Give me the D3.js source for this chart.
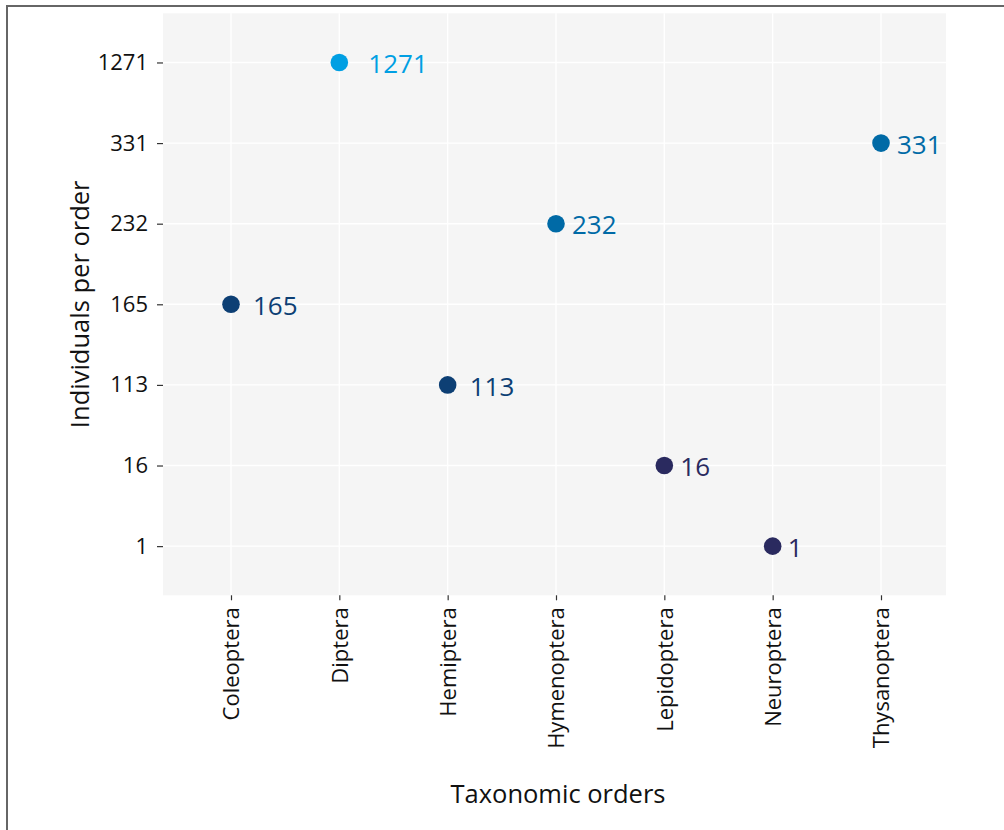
<!DOCTYPE html>
<html>
<head>
<meta charset="utf-8">
<script src="https://cdn.jsdelivr.net/npm/d3@7"></script>
<style>
  html, body { margin: 0; padding: 0; background: #fff; }
  svg { display: block; font-family: "Open Sans", "Noto Sans", sans-serif; }
</style>
</head>
<body>
<svg id="chart" width="1004" height="830"></svg>
<script>
// Insect orders and the number of individuals counted in each
const orders = ["Coleoptera", "Diptera", "Hemiptera", "Hymenoptera", "Lepidoptera", "Neuroptera", "Thysanoptera"];
const counts = [165, 1271, 113, 232, 16, 1, 331];

// Y axis treats the counts as ordered levels
const countLevels = ["1", "16", "113", "165", "232", "331", "1271"];

// Horizontal nudge of each value label away from its point (px)
const labelNudge = [22, 29, 22, 16, 16, 15, 16];

const FONT = '"Open Sans", "Noto Sans", sans-serif';
const svg = d3.select("#chart");
const W = 1004, H = 830;

// Outer frame (left and top edges)
svg.append("path")
  .attr("d", `M7,${H + 5}V6H${W + 5}`)
  .attr("fill", "none")
  .attr("stroke", "#666")
  .attr("stroke-width", 2);

const panel = { left: 163, right: 946, top: 13.3, bottom: 595.3 };

const x = d3.scalePoint()
  .domain(orders)
  .range([panel.left + 68, panel.right - 65]);

const y = d3.scalePoint()
  .domain(countLevels)
  .range([panel.bottom, panel.top])
  .padding(0.61);

const colour = d3.scaleThreshold()
  .domain([100, 200, 1000])
  .range(["#2a2a5f", "#0d3f74", "#006aa6", "#009fe3"]);

// Panel background and grid
svg.append("rect")
  .attr("x", panel.left).attr("y", panel.top)
  .attr("width", panel.right - panel.left)
  .attr("height", panel.bottom - panel.top)
  .attr("fill", "#f5f5f5");

const grid = svg.append("g").attr("stroke", "#fff").attr("stroke-width", 1.4);
grid.selectAll("line.v").data(orders).join("line")
  .attr("x1", d => x(d)).attr("x2", d => x(d))
  .attr("y1", panel.top).attr("y2", panel.bottom);
grid.selectAll("line.h").data(countLevels).join("line")
  .attr("y1", d => y(d)).attr("y2", d => y(d))
  .attr("x1", panel.left).attr("x2", panel.right);

// Axes
const xAxis = svg.append("g")
  .attr("transform", `translate(0,${panel.bottom})`)
  .call(d3.axisBottom(x).tickSize(5).tickPadding(9))
  .attr("font-family", FONT);
xAxis.select(".domain").remove();
xAxis.selectAll(".tick line").attr("stroke", "#333").attr("stroke-width", 1.2);
xAxis.selectAll(".tick text")
  .attr("fill", "#111")
  .style("font-size", "22px")
  .attr("transform", "rotate(-90)")
  .attr("x", -12)
  .attr("y", 0)
  .attr("dy", "0.35em")
  .attr("text-anchor", "end");

const yAxis = svg.append("g")
  .attr("transform", `translate(${panel.left},0)`)
  .call(d3.axisLeft(y).tickSize(6).tickPadding(9))
  .attr("font-family", FONT);
yAxis.select(".domain").remove();
yAxis.selectAll(".tick line").attr("stroke", "#333").attr("stroke-width", 1.2);
yAxis.selectAll(".tick text")
  .attr("fill", "#111")
  .style("font-size", "22px");

// Axis titles
svg.append("text")
  .attr("x", 558).attr("y", 803)
  .attr("text-anchor", "middle")
  .attr("fill", "#111")
  .style("font-size", "25.5px")
  .text("Taxonomic orders");

svg.append("text")
  .attr("transform", `translate(89,${(panel.top + panel.bottom) / 2}) rotate(-90)`)
  .attr("text-anchor", "middle")
  .attr("fill", "#111")
  .style("font-size", "25.5px")
  .text("Individuals per order");

// Points and value labels
const data = orders.map((o, i) => ({ order: o, count: counts[i], nudge: labelNudge[i] }));

svg.append("g").selectAll("circle").data(data).join("circle")
  .attr("cx", d => x(d.order))
  .attr("cy", d => y(String(d.count)))
  .attr("r", 8.8)
  .attr("fill", d => colour(d.count));

svg.append("g").selectAll("text").data(data).join("text")
  .attr("x", d => x(d.order) + d.nudge)
  .attr("y", d => y(String(d.count)) + 1.5)
  .attr("dy", "0.35em")
  .attr("fill", d => colour(d.count))
  .style("font-size", "26px")
  .text(d => d.count);
</script>
</body>
</html>
